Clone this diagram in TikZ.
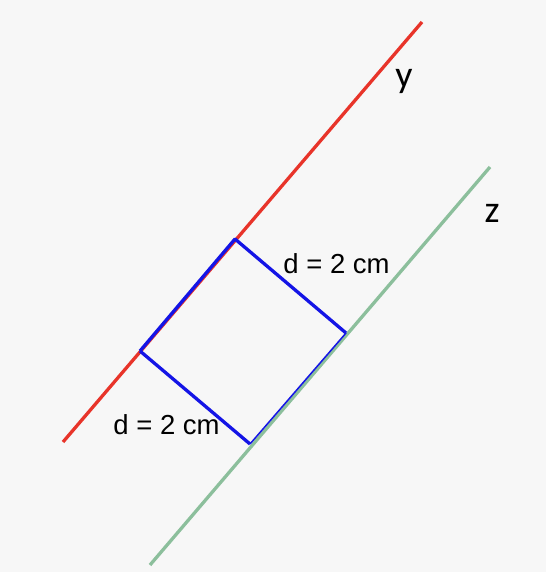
\documentclass[tikz,border=0pt]{standalone}
\usepackage{fontspec}
\setmainfont{Liberation Sans}
\newfontfamily\calib{Carlito}
\definecolor{bgc}{HTML}{F7F7F7}
\definecolor{redl}{HTML}{E8342A}
\definecolor{greenl}{HTML}{8CBF9C}
\definecolor{bluel}{HTML}{1414E6}
\begin{document}
\begin{tikzpicture}[x=1pt,y=-1pt,
  redline/.style={draw=redl,line width=3.3pt},
  greenline/.style={draw=greenl,line width=3.3pt},
  blueline/.style={draw=bluel,line width=3.3pt,line join=round},
  dlabel/.style={font=\fontsize{27.5}{32}\selectfont,inner sep=0pt,anchor=base},
  axlabel/.style={font=\calib\fontsize{38}{42}\selectfont,inner sep=0pt,anchor=base}]
\fill[bgc] (0,0) rectangle (546,572);
\useasboundingbox (0,0) rectangle (546,572);
\coordinate (r1) at (63,442);
\coordinate (r2) at (422,22);
\coordinate (g1) at (150,565);
\coordinate (g2) at (490,167);
\coordinate (A) at (235,239);
\coordinate (B) at (346,333);
\coordinate (C) at (250,444);
\coordinate (D) at (140,351);
\draw[redline] (r1) -- (r2);
\draw[greenline] (g1) -- (g2);
\draw[blueline] (D) -- (A) -- (B);
\draw[bluel,line width=1.5pt] (B) -- (C);
\draw[blueline] (C) -- (D);
\node[dlabel] (l1) at (336.5,273) {d = 2 cm};
\node[dlabel] (l2) at (166.5,434) {d = 2 cm};
\node[axlabel] (ly) at (404,88) {y};
\node[axlabel] (lz) at (492,222) {z};
\end{tikzpicture}
\end{document}
